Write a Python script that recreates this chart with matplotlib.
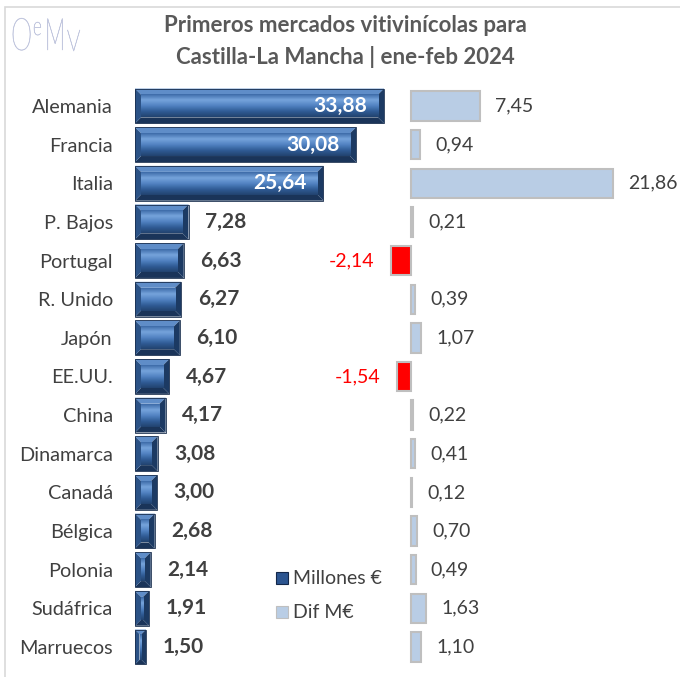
import numpy as np
import matplotlib.pyplot as plt
from matplotlib.patches import Polygon, Rectangle, PathPatch
from matplotlib.colors import LinearSegmentedColormap
from matplotlib.textpath import TextPath
from matplotlib.font_manager import FontProperties
from matplotlib.transforms import Affine2D, IdentityTransform

plt.rcParams['font.family'] = ['Lato', 'DejaVu Sans']

paises = ['Alemania', 'Francia', 'Italia', 'P. Bajos', 'Portugal', 'R. Unido', 'Japón',
          'EE.UU.', 'China', 'Dinamarca', 'Canadá', 'Bélgica', 'Polonia', 'Sudáfrica',
          'Marruecos']
millones = [33.88, 30.08, 25.64, 7.28, 6.63, 6.27, 6.10, 4.67, 4.17, 3.08, 3.00, 2.68,
            2.14, 1.91, 1.50]
dif = [7.45, 0.94, 21.86, 0.21, -2.14, 0.39, 1.07, -1.54, 0.22, 0.41, 0.12, 0.70,
       0.49, 1.63, 1.10]

W, H = 680, 677
fig = plt.figure(figsize=(W / 100, H / 100), dpi=100)

def fx(px):
    return px / W

def fy(py):
    return 1 - py / H

# frame
fig.patches.append(Rectangle((fx(5), -0.1), 1.2, fy(7) + 0.1, transform=fig.transFigure,
                             fill=False, edgecolor='#d9d9d9', linewidth=1.2))

row0, step = 106, 38.64
y_top = row0 - step / 2
y_bot = row0 + 14 * step + step / 2
ax_bottom = fy(y_bot)
ax_height = (y_bot - y_top) / H

left_px, left_w, left_scale = 135, 265, 7.35
ax1 = fig.add_axes([fx(left_px), ax_bottom, fx(left_w), ax_height])
right_px, right_w, zero_px, right_scale = 300, 380, 411, 9.25
ax2 = fig.add_axes([fx(right_px), ax_bottom, fx(right_w), ax_height])
ax2.patch.set_alpha(0)

face_cmap = LinearSegmentedColormap.from_list(
    'face', ['#3d6ba8', '#76a4dc', '#5283c2', '#305c96', '#22436f'])
grad = np.linspace(0, 1, 64).reshape(-1, 1)

def bevel_bar(ax, i, v, h, sx, sy):
    x0, x1 = 0, v
    yt, yb = i - h / 2, i + h / 2
    wpx = v * sx
    b = min(6, wpx / 2 - 1, h * sy / 2 - 1)
    bx, by = b / sx, b / sy
    ax.add_patch(Polygon([(x0, yt), (x1, yt), (x1 - bx, yt + by), (x0 + bx, yt + by)],
                         closed=True, facecolor='#5f8dc8', edgecolor='none', zorder=2))
    ax.add_patch(Polygon([(x0, yb), (x1, yb), (x1 - bx, yb - by), (x0 + bx, yb - by)],
                         closed=True, facecolor='#1a3459', edgecolor='none', zorder=2))
    ax.add_patch(Polygon([(x0, yt), (x0 + bx, yt + by), (x0 + bx, yb - by), (x0, yb)],
                         closed=True, facecolor='#2b5286', edgecolor='none', zorder=2))
    ax.add_patch(Polygon([(x1, yt), (x1 - bx, yt + by), (x1 - bx, yb - by), (x1, yb)],
                         closed=True, facecolor='#1c3a63', edgecolor='none', zorder=2))
    ax.imshow(grad, extent=[x0 + bx, x1 - bx, yb - by, yt + by], cmap=face_cmap,
              aspect='auto', origin='upper', zorder=2, interpolation='bilinear')
    ax.add_patch(Rectangle((x0, yt), v, h, fill=False, edgecolor='#1a2f4f',
                           linewidth=0.6, zorder=3))

ypos = np.arange(len(paises))
for i, v in enumerate(millones):
    bevel_bar(ax1, i, v, 0.9, left_scale, step)
    lab = f'{v:.2f}'.replace('.', ',')
    if v > 10:
        ax1.annotate(lab, (v, i), xytext=(-12, 0), textcoords='offset points', ha='right',
                     va='center', color='white', fontsize=15, fontweight='bold')
    else:
        ax1.annotate(lab, (v, i), xytext=(12, 0), textcoords='offset points', ha='left',
                     va='center', color='#404040', fontsize=15, fontweight='bold')

ax1.set_xlim(0, left_w / left_scale)
ax1.set_ylim(14.5, -0.5)
ax1.set_yticks(ypos)
ax1.set_yticklabels(paises, fontsize=14.3, color='#404040')
ax1.tick_params(axis='y', length=0, pad=16)
ax1.set_xticks([])
for s in ax1.spines.values():
    s.set_visible(False)
ax1.patch.set_alpha(0)

colors = ['#ff0000' if d < 0 else '#b9cde5' for d in dif]
ax2.barh(ypos, dif, height=0.76, color=colors, edgecolor='#bfbfbf', linewidth=1.5)
for i, d in enumerate(dif):
    lab = f'{d:.2f}'.replace('.', ',')
    if d < 0:
        ax2.annotate(lab, (d, i), xytext=(-12, 0), textcoords='offset points', ha='right',
                     va='center', color='#ff0000', fontsize=14)
    else:
        ax2.annotate(lab, (d, i), xytext=(11, 0), textcoords='offset points', ha='left',
                     va='center', color='#404040', fontsize=14)
ax2.set_xlim(-(zero_px - right_px) / right_scale, (right_px + right_w - zero_px) / right_scale)
ax2.set_ylim(14.5, -0.5)
ax2.axis('off')

# title
fig.text(fx(345), fy(26), 'Primeros mercados vitivinícolas para', ha='center', va='center',
         fontsize=16, fontweight='bold', color='#595959')
fig.text(fx(345), fy(57), 'Castilla-La Mancha | ene-feb 2024', ha='center', va='center',
         fontsize=16, fontweight='bold', color='#595959')

# logo, condensed glyphs
logo_font = FontProperties(family='Lato', weight='light')

def logo_glyph(ch, x, base, size, sx):
    tp = TextPath((0, 0), ch, size=size, prop=logo_font)
    tr = Affine2D().scale(sx, 1).translate(x, H - base)
    fig.patches.append(PathPatch(tr.transform_path(tp), transform=IdentityTransform(),
                                 facecolor='#c3c8df', edgecolor='#c3c8df', linewidth=0.4))

logo_glyph('O', 11, 50, 45, 0.6)
logo_glyph('e', 33, 35, 26, 0.65)
logo_glyph('M', 45, 50, 45, 0.5)
logo_glyph('V', 67, 51, 30, 0.7)

# legend
fig.patches.append(Rectangle((fx(276), fy(584)), fx(12), 12 / H, transform=fig.transFigure,
                             facecolor='#2c5590', edgecolor='#14284a', linewidth=0.8))
fig.patches.append(Rectangle((fx(276), fy(618)), fx(12), 12 / H, transform=fig.transFigure,
                             facecolor='#b9cde5', edgecolor='#bfbfbf', linewidth=0.8))
fig.text(fx(293), fy(578), 'Millones €', ha='left', va='center', fontsize=14, color='#404040')
fig.text(fx(293), fy(612), 'Dif M€', ha='left', va='center', fontsize=14, color='#404040')

fig.savefig('out.png', dpi=100)
